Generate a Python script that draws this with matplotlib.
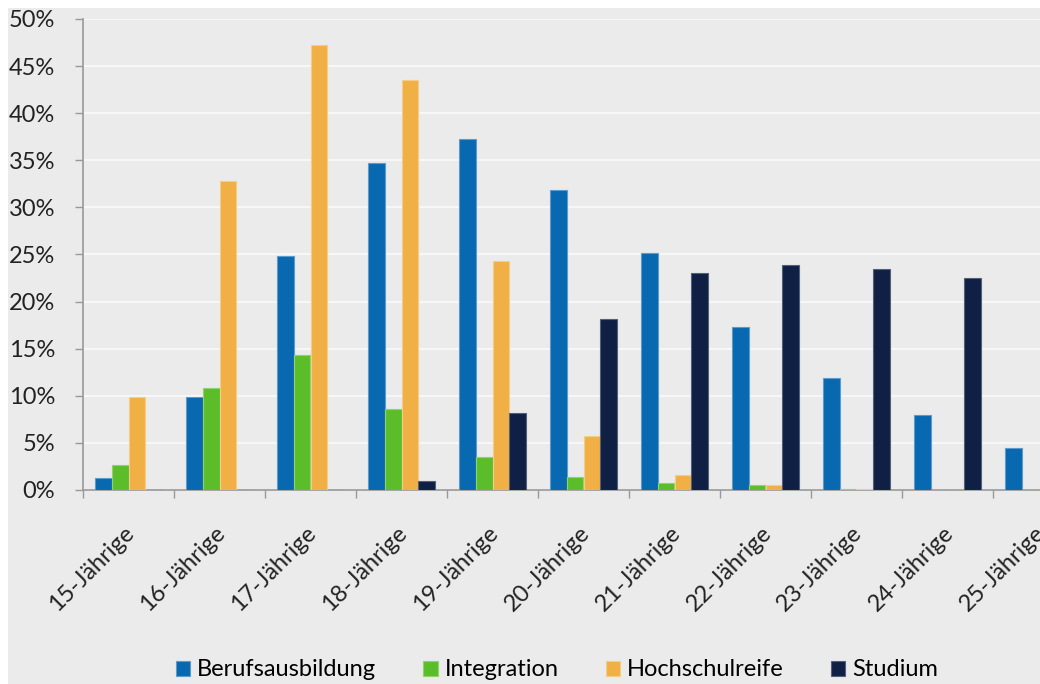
import matplotlib.pyplot as plt
import matplotlib.transforms as mtransforms
import numpy as np
from matplotlib.patches import Rectangle
from matplotlib.ticker import FuncFormatter, MultipleLocator

# Anteile je Altersjahrgang (in %)
categories = ["15-Jährige", "16-Jährige", "17-Jährige", "18-Jährige", "19-Jährige",
              "20-Jährige", "21-Jährige", "22-Jährige", "23-Jährige", "24-Jährige",
              "25-Jährige"]
berufsausbildung = [1.3, 9.9, 24.8, 34.7, 37.3, 31.9, 25.2, 17.3, 11.9, 8.0, 4.5]
integration = [2.7, 10.8, 14.3, 8.6, 3.5, 1.4, 0.7, 0.5, 0.15, 0.0, 0.0]
hochschulreife = [9.9, 32.8, 47.2, 43.5, 24.3, 5.7, 1.6, 0.5, 0.15, 0.0, 0.0]
studium = [0.0, 0.0, 0.0, 1.0, 8.2, 18.2, 23.0, 23.9, 23.5, 22.5, 0.0]

series = ["Berufsausbildung", "Integration", "Hochschulreife", "Studium"]
colors = ["#0868b0", "#5cbd2b", "#f0b046", "#0f2044"]
edges = ["#5b9ccf", "#8fd46a", "#f6cd86", "#53607c"]

plt.rcParams["font.family"] = ["Lato", "DejaVu Sans"]
bg = "#ebebeb"

fig = plt.figure(figsize=(10.4, 6.84), dpi=100)
fig.patch.set_facecolor("white")
fig.add_artist(Rectangle((8 / 1040, 0), 1, 1 - 8 / 684, transform=fig.transFigure,
                         facecolor=bg, edgecolor="none", zorder=-10))

ax = fig.add_axes([83 / 1040, 194 / 684, 1001 / 1040, 471 / 684])
ax.set_facecolor(bg)

x = np.arange(len(categories))
w = 0.185
data = [berufsausbildung, integration, hochschulreife, studium]
for i, (vals, name) in enumerate(zip(data, series)):
    ax.bar(x + (i - 1.5) * w, vals, width=w, color=colors[i], edgecolor=edges[i],
           linewidth=0.8, label=name, zorder=3)

ax.set_xlim(-0.5, len(categories) - 0.5)
ax.set_ylim(0, 50)
ax.yaxis.set_major_locator(MultipleLocator(5))
ax.yaxis.set_major_formatter(FuncFormatter(lambda v, p: f"{v:.0f}%"))
ax.grid(axis="y", color="#f7f7f7", linewidth=1.5, zorder=0)

ax.set_xticks(x)
ax.set_xticklabels(categories, rotation=45, ha="right", rotation_mode="anchor",
                   fontsize=17, color="#222222")
ax.set_xticks(np.arange(-0.5, len(categories), 1), minor=True)
ax.tick_params(axis="x", which="major", length=0, pad=22)
ax.tick_params(axis="x", which="minor", length=6, color="#999999", width=1)
ax.tick_params(axis="y", length=6, color="#999999", width=1, pad=14,
               labelsize=17, labelcolor="#222222")
shift = mtransforms.ScaledTranslation(-5 / 100, -2 / 100, fig.dpi_scale_trans)
for lbl in ax.get_xticklabels():
    lbl.set_transform(lbl.get_transform() + shift)

for s in ["top", "right"]:
    ax.spines[s].set_visible(False)
for s in ["left", "bottom"]:
    ax.spines[s].set_color("#999999")
    ax.spines[s].set_linewidth(1.2)

fig.legend(loc="center", bbox_to_anchor=(557 / 1040, 14 / 684), ncol=4,
           frameon=False, fontsize=17, handlelength=0.6, handleheight=0.6,
           handletextpad=0.3, columnspacing=2.0)

fig.savefig("out.png", dpi=100, facecolor=fig.get_facecolor())
